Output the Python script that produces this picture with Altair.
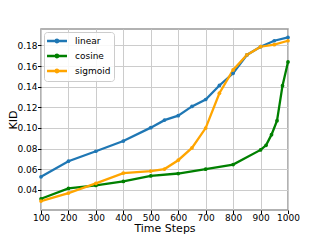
import altair as alt
import pandas as pd

linear_x = [100, 200, 300, 400, 500, 550, 600, 650, 700, 750, 800, 850, 900, 950, 1000]
linear_y = [0.0526, 0.0677, 0.0774, 0.0873, 0.1003, 0.1076, 0.1119, 0.1209, 0.1276, 0.1412, 0.1530, 0.1708, 0.1788, 0.1846, 0.1878]

cosine_x = [100, 200, 300, 400, 500, 600, 700, 800, 900, 920, 940, 960, 980, 1000]
cosine_y = [0.0313, 0.0413, 0.0442, 0.0481, 0.0535, 0.0558, 0.0600, 0.0645, 0.0787, 0.0832, 0.0935, 0.1070, 0.1410, 0.1640]

sigmoid_x = [100, 200, 300, 400, 500, 550, 600, 650, 700, 750, 800, 850, 900, 950, 1000]
sigmoid_y = [0.0291, 0.0368, 0.0462, 0.0562, 0.0582, 0.0601, 0.0687, 0.0806, 0.0999, 0.1337, 0.1563, 0.1708, 0.1788, 0.1808, 0.1846]

series = ["linear", "cosine", "sigmoid"]
colors = ["#1f77b4", "#008000", "#ffa500"]
x_ticks = [100, 200, 300, 400, 500, 600, 700, 800, 900, 1000]
y_ticks = [0.04, 0.06, 0.08, 0.10, 0.12, 0.14, 0.16, 0.18]

rows = []
for name, xs, ys in [("linear", linear_x, linear_y), ("cosine", cosine_x, cosine_y), ("sigmoid", sigmoid_x, sigmoid_y)]:
    for i, (x, y) in enumerate(zip(xs, ys)):
        rows.append({"series": name, "t": x, "kid": y, "order": i})
df = pd.DataFrame(rows)

font = "DejaVu Sans"

legend_symbol = "M-1.26,0H2.95M0.59,0a0.25,0.25 0 1,0 0.5,0a0.25,0.25 0 1,0 -0.5,0"

x_enc = alt.X("t:Q", scale=alt.Scale(domain=[100, 1000], nice=False, zero=False),
              axis=alt.Axis(title="Time Steps", values=x_ticks, format="d",
                            labelOverlap=False, labelFlush=False, titlePadding=0, labelPadding=0))
y_enc = alt.Y("kid:Q", scale=alt.Scale(domain=[0.0204, 0.196], nice=False, zero=False),
              axis=alt.Axis(title="KID", values=y_ticks, format=".2f", labelOverlap=False,
                            labelFlush=False, labelPadding=0.5, titleX=-24.5,
                            titleBaseline="alphabetic"))
color_enc = alt.Color("series:N", scale=alt.Scale(domain=series, range=colors),
                      legend=alt.Legend(title=None, orient="none", legendX=3, legendY=3,
                                        symbolType=legend_symbol, symbolSize=90,
                                        symbolStrokeWidth=2.5, symbolFillColor="transparent",
                                        labelFontSize=9, labelFont=font, rowPadding=1,
                                        padding=3, fillColor="rgba(255,255,255,0.85)",
                                        strokeColor="#cccccc", cornerRadius=3, labelOffset=16))

base = alt.Chart(df).encode(x=x_enc, y=y_enc, color=color_enc, order="order:Q", detail="series:N")
lines = base.mark_line(strokeWidth=2.3)
points = base.mark_point(filled=True, size=14, opacity=1)

chart = (lines + points).properties(
    width=247, height=181,
    autosize=alt.AutoSizeParams(type="none"),
    padding={"left": 33, "top": 21, "right": 24, "bottom": 28},
).configure_axis(
    labelFont=font, titleFont=font, labelFontSize=9, titleFontSize=11,
    titleFontWeight="normal", labelColor="#000", titleColor="#000",
    grid=True, gridColor="#cccccc", gridWidth=1,
    domain=False, tickColor="#000", tickSize=3.5,
).configure_view(
    stroke="#999999", strokeWidth=1.5,
)

chart.save("out.html", embed_options={"renderer": "svg", "actions": False})
